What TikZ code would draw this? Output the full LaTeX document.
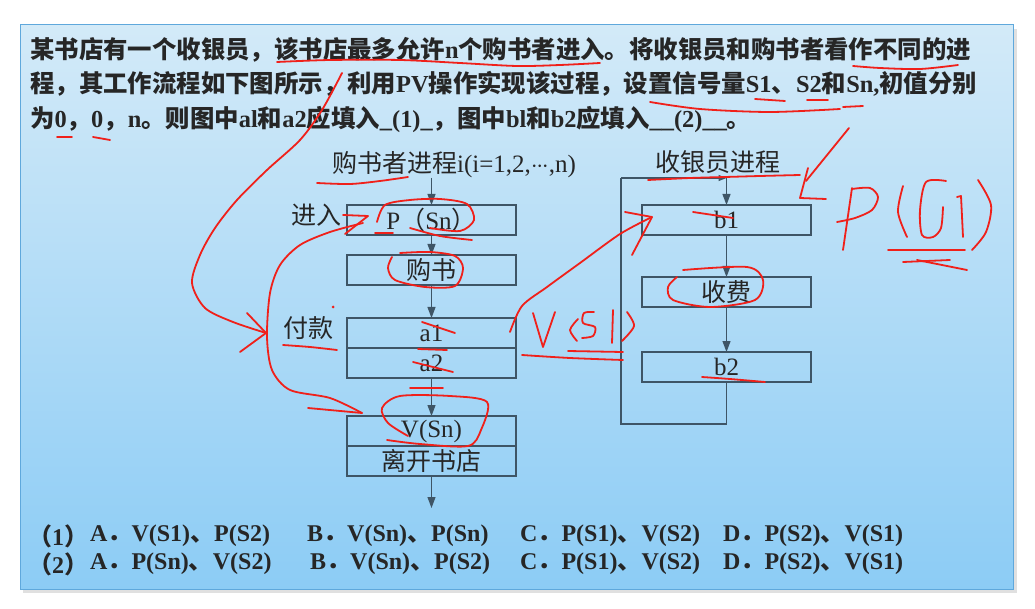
\documentclass[tikz,border=0pt]{standalone}
\usepackage{fontspec}
\setmainfont{Liberation Serif}
\newfontfamily\cjk{Noto Sans CJK SC}
\usepackage{xcolor}
\usetikzlibrary{arrows.meta,positioning}
\definecolor{ink}{HTML}{262626}
\definecolor{boxline}{HTML}{3E5566}
\definecolor{panelborder}{HTML}{5FA8DC}
\definecolor{paneltop}{HTML}{D3EAF8}
\definecolor{panelbottom}{HTML}{8CCCF5}
\definecolor{penred}{HTML}{F0201A}
\newcommand\zh[1]{{\cjk#1}}
\newcommand\cdotrow{$\mathord{\cdot}\mkern-1mu\mathord{\cdot}\mkern-1mu\mathord{\cdot}$}

\begin{document}
\begin{tikzpicture}[
    x=1pt,y=-1pt,
    box/.style={draw=boxline,line width=1.1pt,minimum width=169pt,minimum height=30pt,inner sep=0pt,outer sep=0pt,font=\fontsize{25}{28}\selectfont,text=ink},
    lbl/.style={inner sep=0pt,font=\fontsize{25}{28}\selectfont,text=ink},
    qline/.style={anchor=west,inner sep=0pt,font=\fontsize{24.4}{28}\selectfont\bfseries,text=ink},
    aline/.style={anchor=west,inner sep=0pt,font=\fontsize{24}{28}\selectfont\bfseries,text=ink},
    arr/.style={-{Triangle[width=8pt,length=11pt]},line width=1.1pt,draw=boxline},
    flow/.style={line width=1.1pt,draw=boxline},
    redink/.style={draw=penred,line width=1.8pt,line cap=round,line join=round}
  ]
    \useasboundingbox (0,0) rectangle (1035,609);
    \fill[white] (0,0) rectangle (1035,609);
    \fill[black!12] (23,29) rectangle (1017,593);
    \shade[top color=paneltop,bottom color=panelbottom] (20,25) rectangle (1013,589);
    \draw[panelborder,line width=1pt] (20,25) rectangle (1013,589);

    \node[qline] (q1) at (30,50) {\zh{某书店有一个收银员，该书店最多允许}n\zh{个购书者进入。将收银员和购书者看作不同的进}};
    \node[qline] (q2) at (30,84) {\zh{程，其工作流程如下图所示，利用}PV\zh{操作实现该过程，设置信号量}S1\zh{、}S2\zh{和}Sn,\zh{初值分别}};
    \node[qline] (q3) at (30,119) {\zh{为}0\zh{，}0\zh{，}n\zh{。则图中}al\zh{和}a2\zh{应填入}\_(1)\_\zh{，图中}bl\zh{和}b2\zh{应填入}\_\_(2)\_\_\zh{。}};

    \node[lbl] (buyer) at (454,165) {\zh{购书者进程}i(i=1,2,\cdotrow,n)};
    \node[box] (psn) at (431.5,220) {P\zh{（}Sn\zh{）}};
    \node[box,below=20pt of psn] (buy) {\zh{购书}};
    \node[box,below=33pt of buy] (a1) {a1};
    \node[box,below=0pt of a1] (a2) {a2};
    \node[box,below=38pt of a2] (vsn) {V(Sn)};
    \node[box,below=0pt of vsn] (leave) {\zh{离开书店}};
    \node[lbl] (enter) at (316,215) {\zh{进入}};
    \node[lbl] (pay) at (308,328) {\zh{付款}};
    \coordinate (bstart) at (431.5,178);
    \coordinate (bend) at (431.5,508);
    \draw[arr] (bstart) -- (psn);
    \draw[arr] (psn) -- (buy);
    \draw[arr] (buy) -- (a1);
    \draw[arr] (a2) -- (vsn);
    \draw[arr] (leave) -- (bend);

    \node[lbl] (cashier) at (718,162) {\zh{收银员进程}};
    \node[box] (b1) at (726.5,220) {b1};
    \node[box,below=42pt of b1] (fee) {\zh{收费}};
    \node[box,below=45pt of fee] (b2) {b2};
    \coordinate (ctop) at (726.5,178);
    \coordinate (cleft) at (621,178);
    \coordinate (cbl) at (621,424);
    \coordinate (cbr) at (726.5,424);
    \draw[flow] (b2) -- (cbr) -- (cbl) -- (cleft);
    \draw[flow,-{Triangle[width=6pt,length=8pt]}] (cleft) -- (ctop);
    \draw[arr] (ctop) -- (b1);
    \draw[arr] (b1) -- (fee);
    \draw[arr] (fee) -- (b2);

    \node[aline] (o1) at (28,536) {\zh{（}1\zh{）}};
    \node[aline] (o1a) at (90,536) {A\zh{．}V(S1)\zh{、}P(S2)};
    \node[aline] (o1b) at (307,536) {B\zh{．}V(Sn)\zh{、}P(Sn)};
    \node[aline] (o1c) at (520,536) {C\zh{．}P(S1)\zh{、}V(S2)};
    \node[aline] (o1d) at (723,536) {D\zh{．}P(S2)\zh{、}V(S1)};
    \node[aline] (o2) at (28,564) {\zh{（}2\zh{）}};
    \node[aline] (o2a) at (90,564) {A\zh{．}P(Sn)\zh{、}V(S2)};
    \node[aline] (o2b) at (310,564) {B\zh{．}V(Sn)\zh{、}P(S2)};
    \node[aline] (o2c) at (520,564) {C\zh{．}P(S1)\zh{、}V(S2)};
    \node[aline] (o2d) at (723,564) {D\zh{．}P(S2)\zh{、}V(S1)};

    \draw[redink] plot[smooth] coordinates {(277,62) (330,60) (400,60) (460,63) (517,66) (560,65) (600,63)};
    \draw[redink] plot[smooth] coordinates {(853,66) (880,68) (920,69) (958,65)};
    \draw[redink] plot[smooth] coordinates {(57,137) (72,137)};
    \draw[redink] plot[smooth] coordinates {(93,137) (110,140)};
    \draw[redink] plot[smooth] coordinates {(650,102) (700,109) (770,112) (840,109)};
    \draw[redink] (755,99) -- (785,101);
    \draw[redink] (807,100) -- (828,100);
    \draw[redink] (843,107) -- (863,106);
    \draw[redink] plot[smooth] coordinates {(342,73) (322,110) (300,140) (267,170) (237,200) (215,228) (200,255) (192,283) (205,308) (233,322) (266,333)};
    \draw[redink] (247,313) -- (266,333) -- (240,352);
    \draw[redink] (343,215) -- (368,216) -- (345,234);
    \draw[redink] plot[smooth] coordinates {(363,223) (330,232) (300,245) (280,265) (270,293) (267,337) (272,370) (290,390) (330,398) (362,413)};
    \draw[redink] (308,408) -- (362,413);
    \draw[redink] plot[smooth] coordinates {(317,183) (350,184) (380,181) (408,177)};
    \draw[redink] plot[smooth] coordinates {(283,345) (310,347) (337,350)};
    \fill[penred] (333,307) circle (1.5pt);
    \draw[redink] plot[smooth] coordinates {(377,222) (385,205) (410,200) (440,199) (467,204) (474,220) (460,231) (430,228)};
    \draw[redink] (375,233) -- (393,233);
    \draw[redink] plot[smooth] coordinates {(410,228) (440,236) (472,240)};
    \draw[redink] plot[smooth] coordinates {(400,253) (430,252) (455,256) (463,268) (455,286) (425,287) (395,280) (388,268) (392,257)};
    \draw[redink] (422,322) -- (455,333);
    \draw[redink] (418,349) -- (447,350);
    \draw[redink] (413,362) -- (453,372);
    \draw[redink] (410,388) -- (443,388);
    \draw[redink] plot[smooth] coordinates {(408,436) (388,423) (382,408) (400,396) (450,396) (487,402) (481,430) (468,446) (420,444) (387,440)};
    \draw[redink] plot[smooth] coordinates {(510,332) (522,306) (547,287) (580,263) (620,234) (650,218)};
    \draw[redink] (625,212) -- (652,217) -- (632,255);
    \draw[redink] (533,313) -- (543,347) -- (555,312);
    \draw[redink] plot[smooth] coordinates {(578,319) (570,330) (577,341)};
    \draw[redink] plot[smooth] coordinates {(594,312) (584,313) (583,323) (595,327) (593,336) (582,338)};
    \draw[redink] (613,310) -- (612,343);
    \draw[redink] plot[smooth] coordinates {(627,312) (634,326) (622,341)};
    \draw[redink] plot[smooth] coordinates {(522,355) (570,358) (623,360)};
    \draw[redink] (568,351) -- (623,352);
    \draw[redink] plot[smooth] coordinates {(648,180) (690,178) (725,177) (760,176) (800,175)};
    \draw[redink] (849,128) -- (806,181);
    \draw[redink] (808,168) -- (800,198) -- (826,199);
    \draw[redink] (852,188) -- (843,250);
    \draw[redink] plot[smooth] coordinates {(852,189) (870,188) (878,197) (872,210) (855,218) (837,222)};
    \draw[redink] plot[smooth] coordinates {(903,186) (898,212) (907,237)};
    \draw[redink] plot[smooth] coordinates {(946,181) (926,182) (920,210) (922,235) (933,237) (941,228) (943,207)};
    \draw[redink] (957,197) -- (961,196) -- (963,237);
    \draw[redink] plot[smooth] coordinates {(978,180) (991,205) (986,232) (972,250)};
    \draw[redink] (888,250) -- (965,250);
    \draw[redink] (903,262) -- (950,260);
    \draw[redink] (917,260) -- (967,270);
    \draw[redink] (693,212) -- (733,218);
    \draw[redink] plot[smooth] coordinates {(683,270) (747,267) (763,280) (755,300) (710,307) (673,300) (668,287) (677,277)};
    \draw[redink] plot[smooth] coordinates {(702,377) (730,379) (765,382)};
  \end{tikzpicture}
\end{document}
